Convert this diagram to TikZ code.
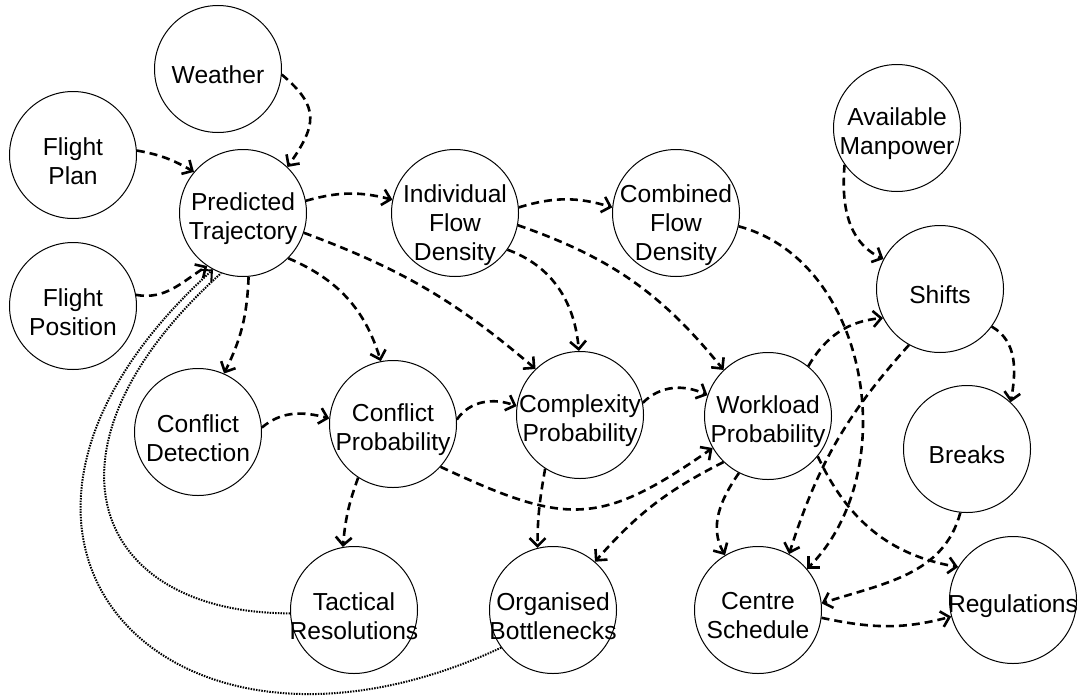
\documentclass[tikz,border=0pt]{standalone}
\usepackage{fontspec}
\setmainfont{Liberation Sans}
\usetikzlibrary{arrows.meta,decorations.markings}

\newcommand{\varfont}{\fontsize{24.6}{29}\selectfont}

\begin{document}
\begin{tikzpicture}[x=1pt,y=1pt,
  var/.style 2 args={circle,draw,line width=1pt,minimum size=127pt,inner sep=0pt,
    label={[font=\varfont,align=center,yshift=#2]center:#1}},
  flow/.style={line width=2.6pt,dash pattern=on 8pt off 5pt,
    -{Straight Barb[length=8pt,width=16pt]}},
  feedback/.style={line width=2pt,dash pattern=on 1.5pt off 1.2pt,
    decoration={markings,mark=at position 1 with
      {\pgfsetdash{}{0pt}\arrow{Straight Barb[length=8pt,width=16pt]}}},
    postaction=decorate}]
\useasboundingbox (0,0) rectangle (1089,-696);
% factors
\foreach \nm/\x/\y/\dy/\txt in {
  weather/218/69/-6pt/Weather,
  fplan/73/155/-6pt/{Flight\\Plan},
  fpos/73/306/-6pt/{Flight\\Position},
  pred/243/213/-6pt/{Predicted\\Trajectory},
  indiv/455/213/-12pt/{Individual\\Flow\\Density},
  comb/676/213/-12pt/{Combined\\Flow\\Density},
  manp/897/128/-6pt/{Available\\Manpower},
  shifts/940/289/-6pt/Shifts,
  detect/198/432/-6pt/{Conflict\\Detection},
  cprob/393/424/-6pt/{Conflict\\Probability},
  cplx/580/415/-6pt/{Complexity\\Probability},
  wload/768/416/-6pt/{Workload\\Probability},
  breaks/967/449/-6pt/Breaks,
  tact/354/610/-6pt/{Tactical\\Resolutions},
  bottle/553/610/-6pt/{Organised\\Bottlenecks},
  centre/758/610/-6pt/{Centre\\Schedule},
  regs/1013/600/-6pt/Regulations}
  {\node [var={\txt}{\dy}] (\nm) at (\x,-\y) {};}

% influences
\draw[flow] (weather.-5) to[out=-40,in=55,looseness=1.4] (pred.46);
\draw[flow] (fplan.4) to[out=-10,in=150] (pred.140);
\draw[flow] (fpos.10) to[out=-10,in=212] (pred.236);
\draw[flow] (pred.11) to[bend left=15] (indiv.168);
\draw[flow] (pred.-18) to[bend left=10] (cplx.134);
\draw[flow] (pred.-45) to[bend left=25] (cprob.101);
\draw[flow] (pred.-85) to[bend left=12] (detect.66);
\draw[flow] (indiv.5) to[bend left=17] (comb.175);
\draw[flow] (indiv.-35) to[out=-20,in=95] (cplx.91);
\draw[flow] (indiv.-11) to[bend left=16] (wload.134);
\draw[flow] (comb.-12) to[out=-15,in=45] (centre.40);
\draw[flow] (manp.215) to[out=-95,in=155] (shifts.152);
\draw[flow] (shifts.-36) to[out=-30,in=80] (breaks.47);
\draw[flow] (wload.51) to[out=60,in=185] (shifts.207);
\draw[flow] (detect.4) to[out=40,in=165] (cprob.175);
\draw[flow] (cprob.4) to[out=55,in=160] (cplx.172);
\draw[flow] (cplx.11) to[out=45,in=155] (wload.161);
\draw[flow] (cprob.-42) to[out=-25,in=215,looseness=1.3] (wload.210);
\draw[flow] (cprob.237) to[out=250,in=85] (tact.100);
\draw[flow] (cplx.237) to[out=260,in=90] (bottle.104);
\draw[flow] (wload.226) to[bend right=11] (bottle.49);
\draw[flow] (wload.243) to[out=235,in=120] (centre.121);
\draw[flow] (wload.-39) to[out=-65,in=170] (regs.149);
\draw[flow] (shifts.241) to[bend right=12] (centre.61);
\draw[flow] (breaks.264) to[out=255,in=18] (centre.6);
\draw[flow] (centre.-7) to[out=-12,in=195] (regs.195);

% feedback loops
\draw[feedback] (tact.183) .. controls +(180:200) and +(222:260) .. (pred.250);
\draw[feedback] (bottle.216) .. controls +(205:370) and +(222:400) .. (pred.242);
\end{tikzpicture}
\end{document}
